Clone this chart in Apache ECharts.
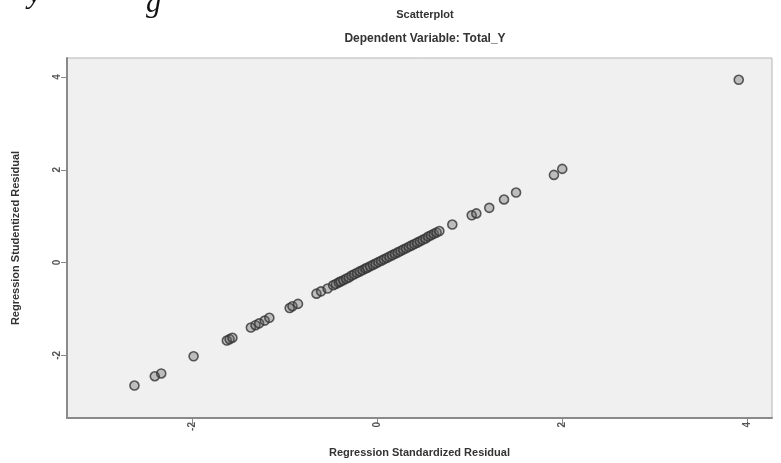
<!DOCTYPE html>
<html>
<head>
<meta charset="utf-8">
<script src="https://cdn.jsdelivr.net/npm/echarts@6/dist/echarts.min.js"></script>
<style>
html,body{margin:0;padding:0;background:#fff;}
#chart{width:781px;height:463px;}
</style>
</head>
<body>
<div id="chart"></div>
<script>
const chartTitle = 'Scatterplot';
const chartSubtitle = 'Dependent Variable: Total_Y';
const xAxisName = 'Regression Standardized Residual';
const yAxisName = 'Regression Studentized Residual';
const xTicks = [-2, 0, 2, 4];
const yTicks = [-2, 0, 2, 4];
const standardizedResidual = [
  -2.63,-2.41,-2.34,-1.99,-1.63,-1.60,-1.57,-1.37,-1.32,-1.28,-1.22,-1.17,-0.95,-0.92,-0.86,-0.66,-0.61,-0.54,
  -0.48,-0.45,-0.42,-0.40,-0.37,-0.34,-0.31,-0.28,-0.25,-0.22,-0.19,-0.16,-0.13,-0.11,-0.08,-0.05,-0.02,0.01,0.04,0.07,
  0.10,0.13,0.16,0.19,0.22,0.25,0.28,0.31,0.34,0.37,0.40,0.43,0.46,0.49,0.52,0.55,0.58,0.61,0.64,0.67,
  0.81,1.02,1.07,1.21,1.37,1.50,1.91,2.00,3.91
];
const studentizedResidual = [
  -2.65,-2.45,-2.39,-2.02,-1.68,-1.65,-1.62,-1.40,-1.35,-1.31,-1.25,-1.19,-0.98,-0.94,-0.89,-0.67,-0.62,-0.56,
  -0.49,-0.46,-0.43,-0.41,-0.38,-0.35,-0.32,-0.28,-0.25,-0.22,-0.19,-0.16,-0.13,-0.11,-0.08,-0.05,-0.02,0.01,0.04,0.07,
  0.10,0.13,0.16,0.19,0.22,0.25,0.28,0.31,0.34,0.37,0.40,0.43,0.46,0.49,0.52,0.56,0.59,0.62,0.65,0.68,
  0.82,1.02,1.06,1.18,1.36,1.51,1.89,2.02,3.94
];
const points = standardizedResidual.map((x, i) => [x, studentizedResidual[i]]);

const chart = echarts.init(document.getElementById('chart'), null, {renderer: 'canvas'});
const font = 'Liberation Sans';
chart.setOption({
  backgroundColor: '#ffffff',
  animation: false,
  title: [
    {text: chartTitle, left: 420, top: 4, textAlign: 'center',
     textStyle: {fontFamily: font, fontSize: 11, fontWeight: 'bold', color: '#333'}},
    {text: chartSubtitle, left: 420, top: 28, textAlign: 'center',
     textStyle: {fontFamily: font, fontSize: 12, fontWeight: 'bold', color: '#333'}}
  ],
  graphic: [
    {type: 'text', left: 28, top: -20, style: {text: 'y', font: 'italic 30px "Liberation Serif"', fill: '#111'}},
    {type: 'text', left: 146, top: -11, style: {text: 'g', font: 'italic 30px "Liberation Serif"', fill: '#111'}}
  ],
  grid: {left: 67, right: 9, top: 58, bottom: 44, show: true,
         backgroundColor: '#f0f0f0', borderColor: '#b5b5b5', borderWidth: 1},
  xAxis: {
    type: 'value', min: -3.36, max: 4.27,
    name: xAxisName, nameLocation: 'middle', nameGap: 29,
    nameTextStyle: {fontFamily: font, fontSize: 11, fontWeight: 'bold', color: '#333'},
    axisLine: {show: true, onZero: false, lineStyle: {color: '#8a8a8a', width: 2}},
    axisTick: {show: true, length: 6, customValues: xTicks, lineStyle: {color: '#888'}},
    axisLabel: {customValues: xTicks, rotate: 90, fontFamily: font, fontSize: 10, fontWeight: 'bold', color: '#555', margin: 4},
    splitLine: {show: false}
  },
  yAxis: {
    type: 'value', min: -3.35, max: 4.41,
    name: yAxisName, nameLocation: 'middle', nameGap: 46,
    nameTextStyle: {fontFamily: font, fontSize: 11, fontWeight: 'bold', color: '#333'},
    axisLine: {show: true, onZero: false, lineStyle: {color: '#8a8a8a', width: 2}},
    axisTick: {show: true, length: 6, customValues: yTicks, lineStyle: {color: '#888'}},
    axisLabel: {customValues: yTicks, rotate: 90, fontFamily: font, fontSize: 10, fontWeight: 'bold', color: '#555', margin: 5},
    splitLine: {show: false}
  },
  series: [{
    type: 'scatter',
    data: points,
    symbol: 'circle',
    symbolSize: 9,
    itemStyle: {color: 'rgba(100,100,100,0.45)', borderColor: '#333', borderWidth: 1.6}
  }]
});
</script>
</body>
</html>
